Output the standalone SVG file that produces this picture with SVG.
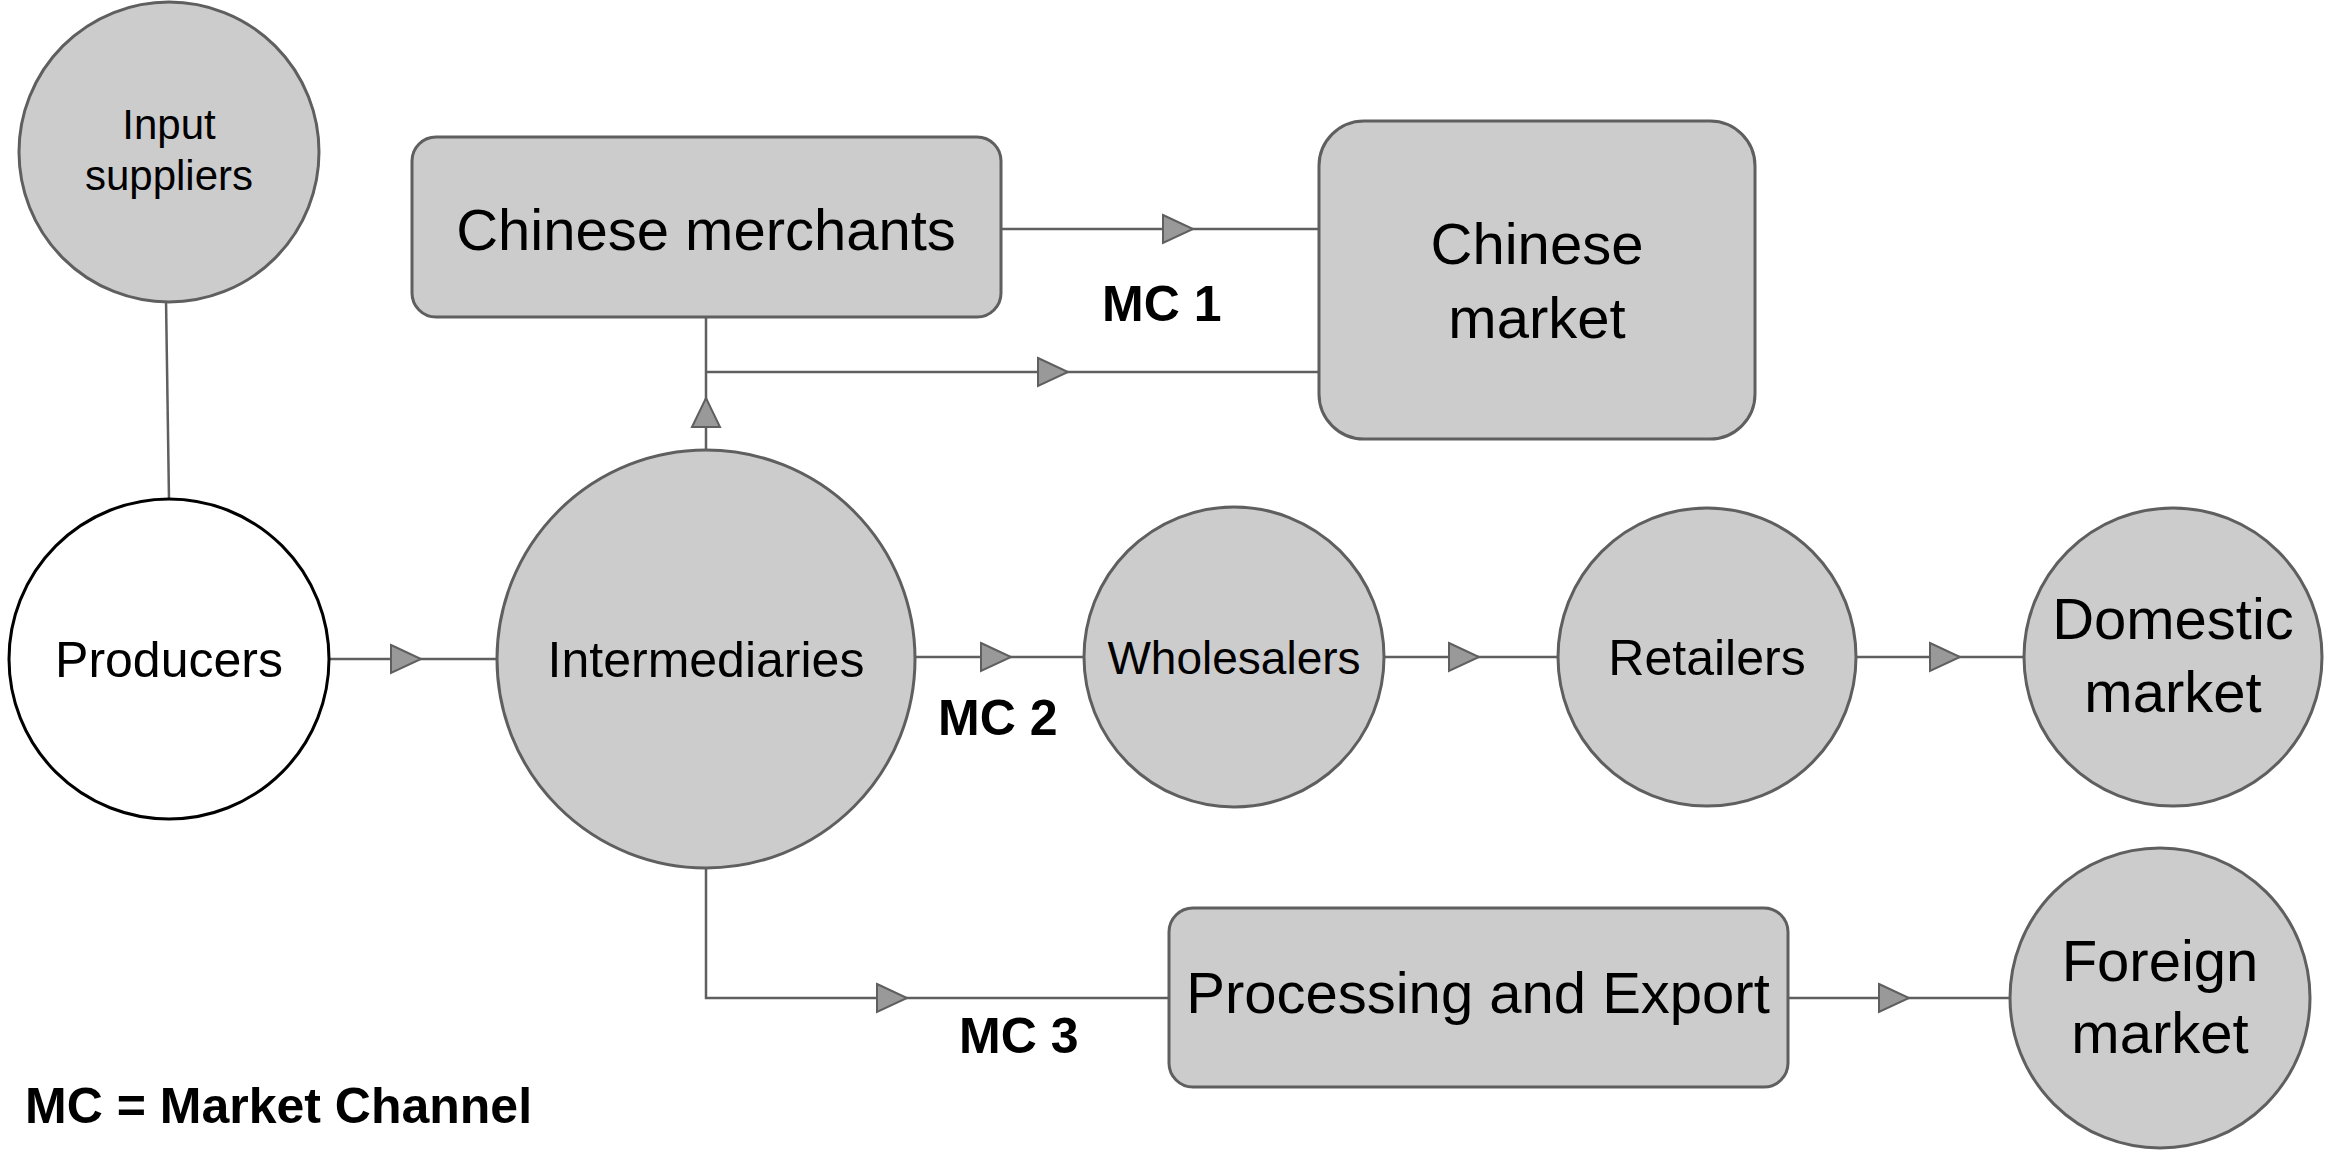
<svg xmlns="http://www.w3.org/2000/svg" width="2330" height="1154" viewBox="0 0 2330 1154">
<style>
.n{fill:#cccccc;stroke:#5f5f5f;stroke-width:3}
.w{fill:#ffffff;stroke:#000;stroke-width:3}
.c{fill:none;stroke:#5f5f5f;stroke-width:2.5}
.a{fill:#999999;stroke:#5f5f5f;stroke-width:2}
text{font-family:"Liberation Sans",Arial,sans-serif;fill:#000;text-anchor:middle}
.b{font-weight:bold;font-size:50px;text-anchor:start}
</style>
<rect width="2330" height="1154" fill="#fff"/>
<g id="connectors">
<line class="c" x1="166" y1="299" x2="169" y2="500"/>
<line class="c" x1="330" y1="659" x2="497" y2="659"/><polygon class="a" points="391,645 421,659 391,673"/>
<line class="c" x1="1001" y1="229" x2="1319" y2="229"/><polygon class="a" points="1163,215 1193,229 1163,243"/>
<polyline class="c" points="706,451 706,317"/><polygon class="a" points="692,427 706,398 720,427"/>
<line class="c" x1="706" y1="372" x2="1319" y2="372"/><polygon class="a" points="1038,358 1068,372 1038,386"/>
<line class="c" x1="916" y1="657" x2="1084" y2="657"/><polygon class="a" points="981,643 1011,657 981,671"/>
<line class="c" x1="1383" y1="657" x2="1558" y2="657"/><polygon class="a" points="1449,643 1479,657 1449,671"/>
<line class="c" x1="1857" y1="657" x2="2024" y2="657"/><polygon class="a" points="1930,643 1960,657 1930,671"/>
<polyline class="c" points="706,863 706,998 1169,998"/><polygon class="a" points="877,984 907,998 877,1012"/>
<line class="c" x1="1788" y1="998" x2="2010" y2="998"/><polygon class="a" points="1879,984 1909,998 1879,1012"/>
</g>
<g id="input-suppliers"><circle class="n" cx="169" cy="152" r="150"/><text x="169" y="139" font-size="42">Input</text><text x="169" y="190" font-size="42">suppliers</text></g>
<g id="producers"><circle class="w" cx="169" cy="659" r="160"/><text x="169" y="677" font-size="50">Producers</text></g>
<g id="chinese-merchants"><rect class="n" x="412" y="137" width="589" height="180" rx="24"/><text x="706" y="250" font-size="58">Chinese merchants</text></g>
<g id="chinese-market"><rect class="n" x="1319" y="121" width="436" height="318" rx="45"/><text x="1537" y="264" font-size="58">Chinese</text><text x="1537" y="338" font-size="58">market</text></g>
<g id="intermediaries"><circle class="n" cx="706" cy="659" r="209"/><text x="706" y="677" font-size="50">Intermediaries</text></g>
<g id="wholesalers"><circle class="n" cx="1234" cy="657" r="150"/><text x="1234" y="674" font-size="46">Wholesalers</text></g>
<g id="retailers"><circle class="n" cx="1707" cy="657" r="149"/><text x="1707" y="675" font-size="50">Retailers</text></g>
<g id="domestic-market"><circle class="n" cx="2173" cy="657" r="149"/><text x="2173" y="639" font-size="58">Domestic</text><text x="2173" y="712" font-size="58">market</text></g>
<g id="processing-export"><rect class="n" x="1169" y="908" width="619" height="179" rx="24"/><text x="1478" y="1013" font-size="58">Processing and Export</text></g>
<g id="foreign-market"><circle class="n" cx="2160" cy="998" r="150"/><text x="2160" y="981" font-size="58">Foreign</text><text x="2160" y="1053" font-size="58">market</text></g>
<g id="labels">
<text class="b" x="1102" y="321">MC 1</text>
<text class="b" x="938" y="735">MC 2</text>
<text class="b" x="959" y="1053">MC 3</text>
<text class="b" x="25" y="1123">MC = Market Channel</text>
</g>
</svg>
